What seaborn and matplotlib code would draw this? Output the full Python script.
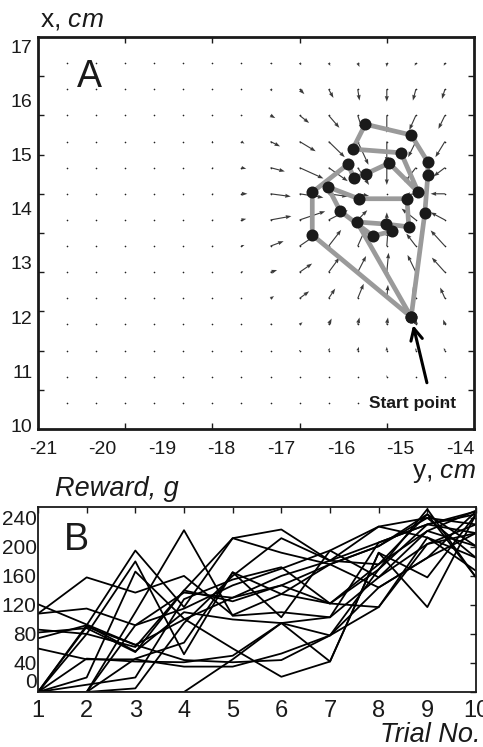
import numpy as np
import pandas as pd
import matplotlib
matplotlib.use("Agg")
import matplotlib.pyplot as plt
import seaborn as sns

# ---------------- Panel A: reward gradient field and search path ----------------
a_xticks = [-21, -20, -19, -18, -17, -16, -15, -14]   # horizontal axis, "y, cm"
a_yticks = [10, 11, 12, 13, 14, 15, 16, 17]           # vertical axis, "x, cm"

# gradient arrows (cm) on a 14 x 14 grid, rows listed from top to bottom
field_u = [
    [0, 0, 0, 0, 0, 0, 0, 0.02, 0.03, 0.03, 0.03, 0, -0.02, -0.02],
    [0, 0, 0, 0, 0, 0, 0, 0.03, 0.08, 0.08, 0.03, 0, -0.05, -0.05],
    [0, 0, 0, 0, 0, 0, 0.02, 0.08, 0.16, 0.18, 0.08, 0, -0.11, -0.11],
    [0, 0, 0, 0, 0, 0.01, 0.05, 0.16, 0.27, 0.27, 0.18, 0, -0.13, -0.16],
    [0, 0, 0, 0, 0, 0.02, 0.08, 0.24, 0.40, 0.32, 0.19, 0, -0.19, -0.19],
    [0, 0, 0, 0, 0, 0.02, 0.10, 0.34, 0.40, 0.32, 0.19, 0, -0.19, -0.24],
    [0, 0, 0, 0, 0, 0.02, 0.08, 0.35, 0.43, 0.32, 0.16, 0, -0.24, -0.24],
    [0, 0, 0, 0, 0, 0.02, 0.05, 0.22, 0.24, 0.21, 0.13, 0.02, -0.16, -0.24],
    [0, 0, 0, 0, 0, 0, 0.03, 0.11, 0.21, 0.18, 0.14, 0.03, -0.14, -0.22],
    [0, 0, 0, 0, 0, 0, 0, 0.06, 0.16, 0.11, 0.10, 0.02, -0.05, -0.08],
    [0, 0, 0, 0, 0, 0, 0, 0.02, 0.05, 0.05, 0.03, 0.02, 0, -0.03],
    [0, 0, 0, 0, 0, 0, 0, 0, 0.01, 0.02, 0.02, 0, 0, -0.02],
    [0, 0, 0, 0, 0, 0, 0, 0, 0, 0, 0, 0, 0, 0],
    [0, 0, 0, 0, 0, 0, 0, 0, 0, 0, 0, 0, 0, 0],
]
field_v = [
    [0, 0, 0, 0, 0, 0, 0, -0.02, -0.04, -0.05, -0.07, -0.07, -0.05, -0.05],
    [0, 0, 0, 0, 0, 0, 0, -0.04, -0.09, -0.16, -0.21, -0.23, -0.21, -0.18],
    [0, 0, 0, 0, 0, 0, -0.01, -0.05, -0.14, -0.23, -0.27, -0.32, -0.27, -0.25],
    [0, 0, 0, 0, 0, 0, -0.04, -0.09, -0.18, -0.29, -0.43, -0.39, -0.29, -0.29],
    [0, 0, 0, 0, 0, 0, -0.02, -0.07, -0.20, -0.25, -0.32, -0.32, -0.27, -0.16],
    [0, 0, 0, 0, 0, 0, 0, -0.05, -0.07, -0.05, -0.04, 0, -0.02, 0],
    [0, 0, 0, 0, 0, 0, 0.02, 0.07, 0.16, 0.18, 0.18, 0.14, 0.21, 0.14],
    [0, 0, 0, 0, 0, 0, 0.02, 0.09, 0.18, 0.30, 0.32, 0.29, 0.23, 0.29],
    [0, 0, 0, 0, 0, 0, 0.02, 0.04, 0.16, 0.27, 0.30, 0.36, 0.32, 0.27],
    [0, 0, 0, 0, 0, 0, 0, 0.04, 0.13, 0.18, 0.27, 0.25, 0.21, 0.20],
    [0, 0, 0, 0, 0, 0, 0, 0.02, 0.04, 0.11, 0.13, 0.13, 0.11, 0.09],
    [0, 0, 0, 0, 0, 0, 0, 0, 0.01, 0.05, 0.07, 0.07, 0.05, 0.05],
    [0, 0, 0, 0, 0, 0, 0, 0, 0, 0, 0, 0.03, 0, 0],
    [0, 0, 0, 0, 0, 0, 0, 0, 0, 0, 0, 0, 0, 0],
]

# successive trial positions: horizontal coordinate ("y") and vertical ("x"), cm
path_y = [-14.82, -14.59, -14.54, -14.54, -14.82, -15.59, -15.80, -14.99, -14.70,
          -15.19, -15.58, -15.78, -15.88, -16.48, -16.48, -14.82, -15.73, -15.24,
          -14.86, -14.89, -15.70, -16.22, -16.01, -15.46, -15.14]
path_x = [12.00, 13.93, 14.63, 14.87, 15.37, 15.57, 15.11, 15.04, 14.31,
          14.85, 14.65, 14.57, 14.83, 14.31, 13.52, 12.00, 13.76, 13.72,
          13.67, 14.19, 14.19, 14.41, 13.96, 13.50, 13.59]
start_label = "Start point"

# ---------------- Panel B: reward per trial ----------------
trials = [1, 2, 3, 4, 5, 6, 7, 8, 9, 10]
reward_curves = [
    [121, 93, 65, 100, 130, 160, 181, 206, 231, 245],
    [108, 158, 137, 160, 106, 135, 122, 176, 222, 250],
    [108, 115, 92, 115, 147, 170, 195, 228, 213, 185],
    [86, 80, 62, 140, 125, 147, 176, 201, 240, 231],
    [74, 92, 56, 110, 100, 95, 103, 158, 204, 219],
    [60, 45, 45, 35, 35, 53, 78, 169, 252, 158],
    [0, 92, 195, 117, 212, 224, 181, 176, 245, 201],
    [0, 80, 180, 52, 165, 135, 176, 144, 185, 249],
    [0, 20, 166, 101, 60, 21, 42, 192, 117, 245],
    [0, 10, 20, 128, 155, 172, 122, 117, 213, 167],
    [0, 0, 110, 223, 105, 110, 103, 206, 231, 219],
    [0, 0, 46, 68, 165, 103, 195, 158, 222, 201],
    [0, 0, 5, 95, 160, 212, 181, 228, 240, 185],
    [0, 46, 42, 41, 50, 95, 42, 192, 158, 245],
    [0, 90, 65, 44, 41, 44, 78, 117, 204, 231],
    [82, 88, 55, 140, 212, 192, 176, 201, 245, 158],
    [0, 0, 92, 137, 130, 147, 122, 169, 231, 249],
    [0, 0, 0, 0, 45, 95, 78, 144, 185, 219],
]
reward_ticks = [0, 40, 80, 120, 160, 200, 240]

# ---------------- style ----------------
sns.set_theme(style="white")
plt.rcParams["font.family"] = ["Liberation Sans", "DejaVu Sans"]
plt.rcParams["mathtext.fontset"] = "custom"
plt.rcParams["mathtext.rm"] = "Liberation Sans"
plt.rcParams["mathtext.it"] = "Liberation Sans:italic"

fig = plt.figure(figsize=(4.83, 7.47), dpi=100)
W, H = 483, 747
axA = fig.add_axes([38 / W, 1 - 429 / H, 436 / W, 392 / H])
axB = fig.add_axes([38 / W, 1 - 692 / H, 438 / W, 185 / H])

# ---- panel A ----
xa0, xa1 = -21.084, -13.765
ya0, ya1 = 9.926, 17.185
gx = np.linspace(xa0, xa1, 16)[1:-1]
gy = np.linspace(ya1, ya0, 16)[1:-1]
GX, GY = np.meshgrid(gx, gy)
U = np.array(field_u)
V = np.array(field_v)

axA.scatter(GX.ravel(), GY.ravel(), s=1.4, color="#222222", lw=0, zorder=1)
moving = (np.abs(U) + np.abs(V)) > 0
axA.quiver(GX[moving], GY[moving], U[moving], V[moving], angles="xy",
           scale_units="xy", scale=1, color="#3a3a3a", width=0.0026,
           headwidth=3.6, headlength=5, headaxislength=4.6, zorder=2)

traj = pd.DataFrame({"h": path_y, "v": path_x, "step": range(len(path_y))})
sns.lineplot(data=traj, x="h", y="v", sort=False, estimator=None, ax=axA,
             color="#9a9a9a", lw=3.4, zorder=3, solid_capstyle="round")
sns.scatterplot(data=traj, x="h", y="v", ax=axA, color="#1a1a1a", s=75,
                linewidth=0, zorder=4)

axA.annotate("", xy=(path_y[0], path_x[0]), xycoords="data",
             xytext=(0.892, 0.118), textcoords="axes fraction",
             arrowprops=dict(arrowstyle="->,head_length=0.7,head_width=0.35",
                             lw=2.2, color="black", shrinkA=0, shrinkB=6),
             zorder=5)
axA.text(0.86, 0.066, start_label, transform=axA.transAxes, ha="center",
         va="center", fontsize=12.5, fontweight="bold", color="#1a1a1a")

axA.set_xlim(xa0, xa1)
axA.set_ylim(ya0, ya1)
axA.set_xticks(a_xticks)
axA.set_yticks(a_yticks)
axA.set_xticklabels([str(t) for t in a_xticks])
axA.set_yticklabels([str(t) for t in a_yticks])
axA.tick_params(which="major", length=0, labelsize=14, colors="#1a1a1a")
axA.tick_params(axis="x", which="major", pad=9)
axA.tick_params(axis="y", which="major", pad=4)
axA.set_xticks(np.linspace(xa0, xa1, 6)[1:-1], minor=True)
axA.set_yticks(np.linspace(ya0, ya1, 11)[1:-1], minor=True)
axA.tick_params(which="minor", direction="in", length=4, width=1,
                top=True, right=True, bottom=True, left=True, color="#1a1a1a")
axA.set_xlabel("")
axA.set_ylabel("")
for sp in axA.spines.values():
    sp.set_linewidth(2.0)
    sp.set_color("#1a1a1a")

axA.text(0.119, 0.898, "A", transform=axA.transAxes, ha="center", va="center",
         fontsize=27, color="#1a1a1a")
axA.text(0.005, 1.026, r"x, $\it{cm}$", transform=axA.transAxes, ha="left",
         va="baseline", fontsize=19, color="#1a1a1a")
axA.text(1.005, -0.124, r"y, $\it{cm}$", transform=axA.transAxes, ha="right",
         va="baseline", fontsize=19, color="#1a1a1a")

# ---- panel B ----
long = pd.DataFrame([
    {"subject": i, "trial": t, "reward": r}
    for i, curve in enumerate(reward_curves)
    for t, r in zip(trials, curve)
])
sns.lineplot(data=long, x="trial", y="reward", units="subject", estimator=None,
             color="black", lw=1.3, ax=axB)
axB.set_xlim(1, 10)
axB.set_ylim(0, 255)
axB.set_xticks(trials)
axB.set_yticks(reward_ticks)
axB.tick_params(direction="in", length=4, width=1, top=True, right=True,
                colors="#1a1a1a")
axB.tick_params(axis="x", labelsize=17, pad=6)
axB.tick_params(axis="y", labelsize=15, pad=1)
axB.set_xlabel("")
axB.set_ylabel("")
for sp in axB.spines.values():
    sp.set_linewidth(1.3)
    sp.set_color("#1a1a1a")
fig.canvas.draw()
axB.get_yticklabels()[0].set_verticalalignment("bottom")

axB.text(0.087, 0.822, "B", transform=axB.transAxes, ha="center", va="center",
         fontsize=27, color="#1a1a1a")
axB.text(0.039, 1.059, "Reward, g", transform=axB.transAxes, ha="left",
         va="baseline", fontsize=19.5, style="italic", color="#1a1a1a")
axB.text(1.011, -0.27, "Trial No.", transform=axB.transAxes, ha="right",
         va="baseline", fontsize=19.5, style="italic", color="#1a1a1a")

fig.savefig("out.png", dpi=100)
